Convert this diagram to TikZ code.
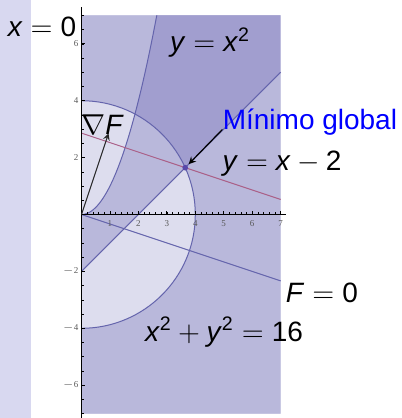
\documentclass[tikz,border=0pt]{standalone}
\usepackage[no-math]{fontspec}
\setmainfont{Liberation Sans}
\newfontfamily\tickfont{Liberation Serif}
\usetikzlibrary{arrows}
\definecolor{sidebar}{RGB}{216,216,240}
\definecolor{lightreg}{RGB}{221,221,238}
\definecolor{midreg}{RGB}{185,184,219}
\definecolor{darkreg}{RGB}{161,158,207}
\definecolor{bound}{RGB}{100,100,172}
\definecolor{levelc}{RGB}{170,95,135}
\definecolor{mindot}{RGB}{88,72,170}
\newcommand{\eq}{${}={}$}
\tikzset{
  lab/.style={inner sep=0pt, font=\fontsize{14}{16}\selectfont},
  ticklab/.style={inner sep=0pt, text=black!65, font=\tickfont\fontsize{4.5}{5}\selectfont},
  curve/.style={bound, line width=.5pt}
}
\begin{document}
\begin{tikzpicture}[>=stealth, scale=.5]
\useasboundingbox (-2.865,-7.153) rectangle (11.265,7.54);
\fill[sidebar](-2.865,-7.153) rectangle (-1.775,7.54);
% shaded regions
\begin{scope}
\clip(0,-7) rectangle (7,7);
\fill[lightreg](0,-7) rectangle (7,7);
\fill[midreg](0,0) -- plot[domain=0:2.6458, samples=40] (\x,\x*\x) -- (7,7) -- (7,5) -- (0,-2) -- cycle;
\fill[midreg, even odd rule](0,-7) rectangle (7,7) (0,0) circle (4);
\clip(0,0) -- plot[domain=0:2.6458, samples=40] (\x,\x*\x) -- (7,7) -- (7,5) -- (0,-2) -- cycle;
\fill[darkreg, even odd rule](0,-7) rectangle (7,7) (0,0) circle (4);
\end{scope}
% curves
\draw[curve](0,4) arc (90:-90:4);
\draw[curve] plot[domain=0:2.6458, samples=40] (\x,\x*\x);
\draw[curve](0,-2)--(7,5);
\draw[curve](0,0)--(7,-2.3333);
\draw[levelc, line width=.5pt](0,2.861)--(7,.528);
% axes
\draw[line width=.6pt](0,-7.153)--(0,7.3);
\draw[line width=.6pt](0,0)--(7.2,0);
\foreach \x in {1,...,7}
{
    \draw(\x,0)--(\x,.14);
    \node[ticklab] (xt\x) at (\x,-.33) {\x};
}
\foreach \x in {0.2,0.4,...,7.0}
    \draw[line width=.3pt](\x,0)--(\x,.09);
\foreach \y/\t in {-6/$-$6,-4/$-$4,-2/$-$2,2/2,4/4,6/6}
{
    \draw(0,\y)--(.14,\y);
    \node[ticklab, anchor=east] (yt\y) at (-.1,\y) {\t};
}
\foreach \y in {-7,-6.5,...,7}
    \draw[line width=.3pt](0,\y)--(.09,\y);
% points and arrows
\coordinate (O) at (0,0);
\coordinate (gradtip) at (.95,2.85);
\draw[->, line width=.5pt, black!85](O)--(gradtip);
\coordinate (min) at (3.6458,1.6458);
\fill[mindot](min) circle (.1);
% labels
\node[lab] (xzero) at (-1.39,6.59) {\textit{x}\eq0};
\node[lab] (parab) at (4.52,6.05) {\textit{y}\eq\textit{x}\textsuperscript{2}};
\node[lab] (grad) at (.74,3.15) {$\nabla$\textit{F}};
\node[lab, text=blue] (minlab) at (8.03,3.25) {Mínimo global};
\node[lab] (linelab) at (7.05,1.78) {\textit{y}\eq\textit{x}${}-{}$2};
\node[lab] (fzero) at (8.45,-2.76) {\textit{F}\eq0};
\node[lab] (circlab) at (5.01,-4.13) {\textit{x}\textsuperscript{2}${}+{}$\textit{y}\textsuperscript{2}\eq16};
\draw[->, line width=.6pt, shorten >=2.5pt](minlab.base west)--(min);
\end{tikzpicture}
\end{document}
